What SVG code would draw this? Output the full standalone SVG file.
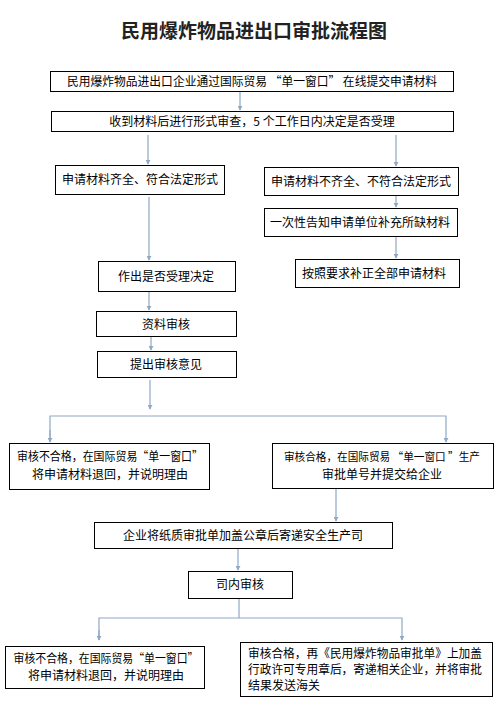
<svg xmlns="http://www.w3.org/2000/svg" width="495" height="702" viewBox="0 0 495 702">
<style>
.box{fill:#fff;stroke:#000;stroke-width:1}
.t{font-family:"Noto Sans CJK SC","Noto Sans",sans-serif;font-size:12px;fill:#000;text-anchor:middle}
.tl{font-family:"Noto Sans CJK SC","Noto Sans",sans-serif;font-size:12px;fill:#000}
.title{font-family:"Noto Sans CJK SC","Noto Sans",sans-serif;font-size:19px;font-weight:bold;fill:#222;text-anchor:middle}
.c{fill:none;stroke:#8fa8c4;stroke-width:1.2}
</style>
<defs>
<marker id="ah" viewBox="0 0 6 6" refX="5" refY="3" markerWidth="5" markerHeight="5" orient="auto" markerUnits="userSpaceOnUse">
<path d="M0,0 L6,3 L0,6 Z" fill="#8fa8c4"/>
</marker>
</defs>
<rect width="495" height="702" fill="#fff"/>
<text class="title" x="254" y="38">民用爆炸物品进出口审批流程图</text>

<g id="connectors">
<line class="c" x1="240" y1="92" x2="240" y2="110" marker-end="url(#ah)"/>
<line class="c" x1="148" y1="135" x2="148" y2="164" marker-end="url(#ah)"/>
<line class="c" x1="396" y1="135" x2="396" y2="166" marker-end="url(#ah)"/>
<line class="c" x1="396" y1="195" x2="396" y2="207" marker-end="url(#ah)"/>
<line class="c" x1="396" y1="236" x2="396" y2="258" marker-end="url(#ah)"/>
<line class="c" x1="149" y1="197" x2="149" y2="260" marker-end="url(#ah)"/>
<line class="c" x1="149" y1="291" x2="149" y2="310" marker-end="url(#ah)"/>
<line class="c" x1="151" y1="336" x2="151" y2="350" marker-end="url(#ah)"/>
<line class="c" x1="150" y1="380" x2="150" y2="409" marker-end="url(#ah)"/>
<polyline class="c" points="50,442 50,416 446,416 446,442" marker-end="url(#ah)"/>
<line class="c" x1="50" y1="430" x2="50" y2="442" marker-end="url(#ah)"/>
<line class="c" x1="336" y1="489" x2="336" y2="521" marker-end="url(#ah)"/>
<line class="c" x1="238" y1="548" x2="238" y2="570" marker-end="url(#ah)"/>
<line class="c" x1="239" y1="598" x2="239" y2="618"/>
<polyline class="c" points="99,640 99,618 402,618 402,640" marker-end="url(#ah)"/>
<line class="c" x1="99" y1="630" x2="99" y2="640" marker-end="url(#ah)"/>
</g>

<g id="n1"><rect class="box" x="50.5" y="71.5" width="403" height="20"/><text class="t" x="252" y="86" textLength="370" lengthAdjust="spacingAndGlyphs">民用爆炸物品进出口企业通过国际贸易 “单一窗口” 在线提交申请材料</text></g>
<g id="n2"><rect class="box" x="51.5" y="111.5" width="402" height="20"/><text class="t" x="252" y="126">收到材料后进行形式审查，5 个工作日内决定是否受理</text></g>
<g id="n3"><rect class="box" x="55.5" y="165.5" width="169" height="29"/><text class="t" x="140" y="184">申请材料齐全、符合法定形式</text></g>
<g id="n4"><rect class="box" x="264.5" y="167.5" width="194" height="28"/><text class="t" x="361" y="186">申请材料不齐全、不符合法定形式</text></g>
<g id="n5"><rect class="box" x="264.5" y="208.5" width="193" height="28"/><text class="t" x="360" y="227">一次性告知申请单位补充所缺材料</text></g>
<g id="n6"><rect class="box" x="295.5" y="259.5" width="164" height="28"/><text class="t" x="374" y="278">按照要求补正全部申请材料</text></g>
<g id="n7"><rect class="box" x="98.5" y="261.5" width="137" height="30"/><text class="t" x="166" y="281">作出是否受理决定</text></g>
<g id="n8"><rect class="box" x="96.5" y="311.5" width="140" height="25"/><text class="t" x="166" y="329">资料审核</text></g>
<g id="n9"><rect class="box" x="97.5" y="351.5" width="139" height="26"/><text class="t" x="166" y="369">提出审核意见</text></g>
<g id="n10"><rect class="box" x="9.5" y="443.5" width="200" height="46"/><text class="t" x="110" y="461" textLength="186" lengthAdjust="spacingAndGlyphs">审核不合格，在国际贸易“单一窗口”</text><text class="t" x="110" y="479">将申请材料退回，并说明理由</text></g>
<g id="n11"><rect class="box" x="272.5" y="443.5" width="221" height="45"/><text class="t" x="382" y="461" style="font-size:11px" textLength="196" lengthAdjust="spacingAndGlyphs">审核合格，在国际贸易 “单一窗口 ”生产</text><text class="t" x="382" y="479">审批单号并提交给企业</text></g>
<g id="n12"><rect class="box" x="94.5" y="522.5" width="298" height="26"/><text class="t" x="243" y="540">企业将纸质审批单加盖公章后寄递安全生产司</text></g>
<g id="n13"><rect class="box" x="188.5" y="571.5" width="104" height="27"/><text class="t" x="240" y="589">司内审核</text></g>
<g id="n14"><rect class="box" x="5.5" y="646.5" width="199" height="42"/><text class="t" x="106" y="663" textLength="185" lengthAdjust="spacingAndGlyphs">审核不合格，在国际贸易“单一窗口”</text><text class="t" x="106" y="680">将申请材料退回，并说明理由</text></g>
<g id="n15"><rect class="box" x="240.5" y="642.5" width="252" height="54"/><text class="tl" x="248" y="658" textLength="234" lengthAdjust="spacingAndGlyphs">审核合格，再《民用爆炸物品审批单》上加盖</text><text class="tl" x="248" y="674" textLength="234" lengthAdjust="spacingAndGlyphs">行政许可专用章后，寄递相关企业，并将审批</text><text class="tl" x="248" y="690">结果发送海关</text></g>
</svg>
